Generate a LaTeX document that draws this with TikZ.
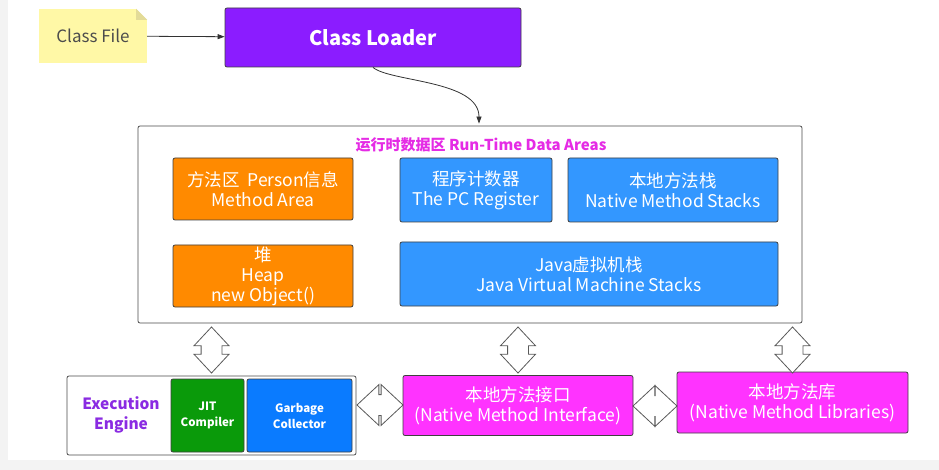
\documentclass[tikz,border=0pt]{standalone}
\usepackage{fontspec}
\setmainfont{Noto Sans CJK SC}
\usetikzlibrary{positioning,arrows.meta,shapes.arrows}
\definecolor{loadercol}{HTML}{8B1CFF}
\definecolor{methodcol}{HTML}{FF8A00}
\definecolor{stackcol}{HTML}{3397FF}
\definecolor{gccol}{HTML}{0A7BFF}
\definecolor{jitcol}{HTML}{0A9A0A}
\definecolor{nativecol}{HTML}{FF33FF}
\definecolor{titlecol}{HTML}{E52BE5}
\definecolor{enginecol}{HTML}{8A2BE2}
\definecolor{notecol}{HTML}{FFF8A6}
\definecolor{foldcol}{HTML}{E3DB98}
\definecolor{pagecol}{HTML}{F3F3F3}
\tikzset{
  note/.style={fill=notecol, text=black!70, minimum width=108pt,
    minimum height=54pt, inner sep=0pt, font=\fontsize{17}{20}\selectfont},
  loader/.style={draw=black!75, line width=0.8pt, rounded corners=2pt,
    fill=loadercol, text=white, minimum width=296pt, minimum height=59pt,
    font=\fontsize{20}{24}\selectfont\bfseries},
  frame/.style={draw=black!70, line width=0.8pt, rounded corners=2pt,
    fill=white},
  title/.style={text=titlecol, font=\fontsize{15}{18}\selectfont\bfseries},
  area/.style={draw=black!75, line width=0.8pt, rounded corners=2pt,
    fill=#1, text=white, align=center, inner sep=0pt,
    font=\fontsize{17.5}{20}\selectfont},
  unit/.style={draw=black!75, line width=0.8pt, rounded corners=2pt,
    fill=#1, text=white, align=center, inner sep=0pt, minimum height=73pt,
    font=\fontsize{11.5}{16}\selectfont\bfseries},
  engine/.style={text=enginecol, align=center,
    font=\fontsize{15.5}{20}\selectfont\bfseries},
  arr/.style={-{Triangle[length=7pt,width=5pt]}, draw=black!80,
    line width=0.8pt},
  fat/.style={shape=double arrow, draw=black!65, fill=white,
    line width=0.8pt, inner xsep=0pt, inner ysep=10pt,
    double arrow tip angle=86},
  vfat/.style={fat, rotate=90, minimum height=46pt,
    double arrow head extend=7pt},
  hfat/.style={fat, minimum height=46pt, double arrow head extend=10pt}}
\begin{document}
\begin{tikzpicture}[x=1pt, y=-1pt]
  \fill[pagecol] (0,0) rectangle (939,470);
  \fill[white] (8,0) rectangle (939,460);
  \useasboundingbox (0,0) rectangle (939,470);
  % loading
  \node[note] (cf) at (93,36) {Class File};
  \fill[white] (cf.north east) -- ++(-11,0) -- ++(11,11) -- cycle;
  \fill[foldcol] ([xshift=-11pt]cf.north east) -- ++(11,11) -- ++(-11,0) -- cycle;
  \node[loader] (cl) at (373,37.5) {Class Loader};
  \draw[arr] (cf) -- (cl);
  % run-time data areas
  \node[frame, minimum width=664pt, minimum height=197pt] (rt) at (470,224.5) {};
  \node[title] (rtt) at (481,145) {运行时数据区 Run-Time Data Areas};
  \node[area=methodcol, minimum width=180pt, minimum height=62pt] (ma) at (263,189) {方法区\ \ Person信息\\Method Area};
  \node[area=stackcol, minimum width=152pt, minimum height=64pt] (pc) at (476,190) {程序计数器\\The PC Register};
  \node[area=stackcol, minimum width=210pt, minimum height=64pt] (nms) at (673,190) {本地方法栈\\Native Method Stacks};
  \node[area=methodcol, minimum width=180pt, minimum height=62pt] (heap) at (263,276) {堆\\Heap\\new Object()};
  \node[area=stackcol, minimum width=378pt, minimum height=64pt] (jvm) at (589,274) {Java虚拟机栈\\Java Virtual Machine Stacks};
  \draw[arr, shorten >=2pt] (cl.south) .. controls (390,82) and (479,80) .. ([xshift=9pt]rt.north);
  % engine and native side
  \node[frame, minimum width=289pt, minimum height=79pt] (ee) at (211.5,415.5) {};
  \node[engine] (eet) at (121,415) {Execution\\Engine};
  \node[unit=jitcol, minimum width=73pt] (jit) at (207.5,415.5) {JIT\\Compiler};
  \node[unit=gccol, minimum width=105pt] (gc) at (299.5,415.5) {Garbage\\Collector};
  \node[area=nativecol, minimum width=230pt, minimum height=60pt] (nmi) at (518,405.5) {本地方法接口\\(Native Method Interface)};
  \node[area=nativecol, minimum width=231pt, minimum height=61pt] (nml) at (792.5,402.5) {本地方法库\\(Native Method Libraries)};
  \foreach \n in {ee,nmi,nml}
    \node[vfat] (up-\n) at (\n.north |- 0,350) {};
  \node[hfat] (lr1) at (380,405) {};
  \node[hfat, minimum height=44pt] (lr2) at (655,406) {};
\end{tikzpicture}
\end{document}
